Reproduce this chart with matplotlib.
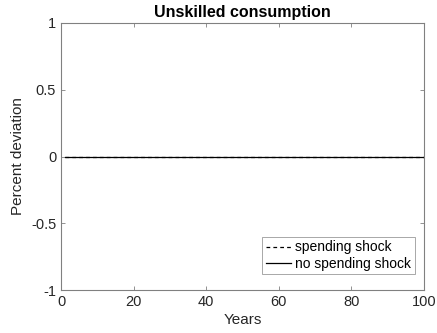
import numpy as np
import matplotlib
matplotlib.use("Agg")
import matplotlib.pyplot as plt

years = np.arange(1, 101)
spending_shock = np.zeros(100)
no_spending_shock = np.zeros(100)
xticks = [0, 20, 40, 60, 80, 100]
yticks = [-1, -0.5, 0, 0.5, 1]
yticklabels = ["-1", "-0.5", "0", "0.5", "1"]

plt.rcParams['font.family'] = ['Liberation Sans', 'DejaVu Sans']
fig = plt.figure(figsize=(4.37, 3.33), dpi=100)
ax = fig.add_axes([61/437, 1-290/333, (424-61)/437, (290-23)/333])
ax.plot(years, spending_shock, '--', color='black', lw=0.9, dashes=(3, 2.5), label='spending shock')
ax.plot(years, no_spending_shock, '-', color='black', lw=0.9, label='no spending shock')
ax.set_xlim(0, 100)
ax.set_ylim(-1, 1)
ax.set_xticks(xticks)
ax.set_yticks(yticks)
ax.set_yticklabels(yticklabels)
gray = '#262626'
for s in ax.spines.values():
    s.set_color('#808080')
    s.set_linewidth(0.8)
ax.tick_params(direction='in', top=True, right=True, length=3, width=0.6,
               color='#808080', labelcolor=gray, labelsize=10.5)
ax.set_xlabel('Years', fontsize=11, color=gray, labelpad=3)
ax.set_ylabel('Percent deviation', fontsize=11, color=gray, labelpad=4)
ax.set_title('Unskilled consumption', fontsize=11.5, fontweight='bold', pad=4)
leg = ax.legend(loc='lower right', fontsize=10, frameon=True, fancybox=False,
                edgecolor='#808080', handlelength=1.8, borderpad=0.25,
                labelspacing=0.15, handletextpad=0.3, borderaxespad=0,
                bbox_to_anchor=(0.974, 0.06))
leg.get_frame().set_linewidth(0.6)
fig.savefig('out.png', dpi=100)
